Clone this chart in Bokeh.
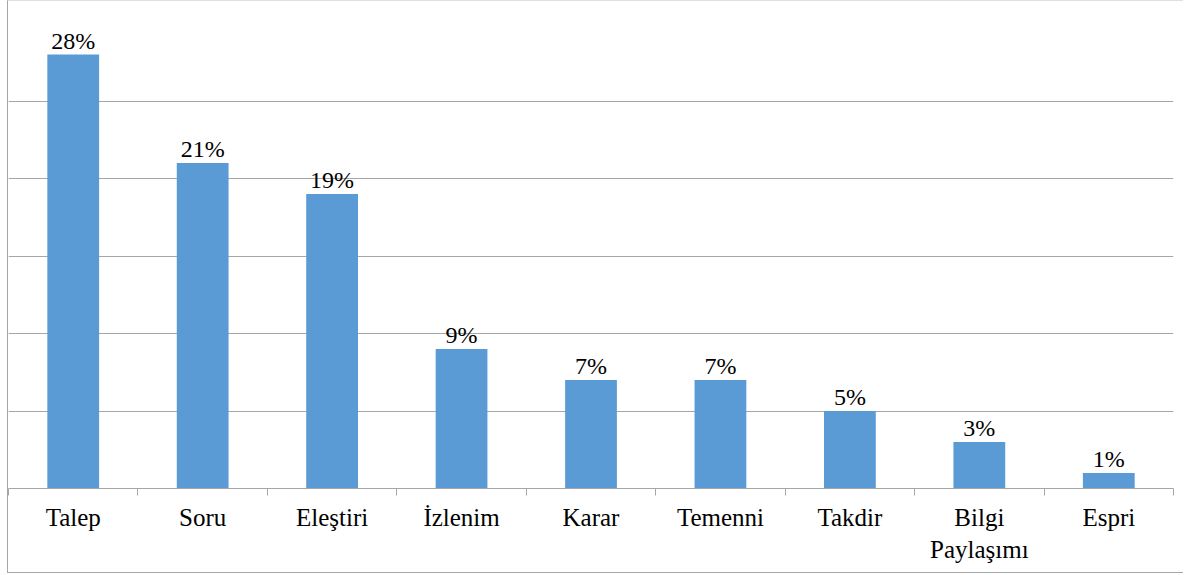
import numpy as np
from bokeh.plotting import figure
from bokeh.models import ColumnDataSource, LabelSet, FixedTicker, Range1d
from bokeh.embed import file_html
from bokeh.resources import INLINE

categories = ["Talep", "Soru", "Eleştiri", "İzlenim", "Karar", "Temenni", "Takdir", "Bilgi\nPaylaşımı", "Espri"]
values = [28, 21, 19, 9, 7, 7, 5, 3, 1]
y_ticks = [0, 5, 10, 15, 20, 25, 30]

n = len(categories)
centers = [i + 0.5 for i in range(n)]
src = ColumnDataSource(dict(x=centers, top=values, lab=[f"{v}%" for v in values]))

p = figure(width=1176, height=573, output_backend="svg", toolbar_location=None,
           x_range=Range1d(0, n), y_range=Range1d(0, 30),
           min_border_left=0, min_border_right=11, min_border_top=22, min_border_bottom=86,
           styles={"margin-left": "7px",
                   "border-left": "1px solid #a6a6a6", "border-bottom": "1px solid #a6a6a6",
                   "border-top": "1px solid #e0e0e0"})
p.outline_line_color = None
p.background_fill_color = "white"
p.border_fill_color = "white"

p.vbar(x="x", top="top", width=0.4, source=src, color="#5b9bd5", line_color=None)

p.add_layout(LabelSet(x="x", y="top", text="lab", source=src, y_offset=6,
                      text_align="center", text_baseline="alphabetic",
                      text_font="Liberation Serif", text_font_size="24px", text_color="black"))

p.yaxis.visible = False
p.ygrid.ticker = FixedTicker(ticks=y_ticks)
p.ygrid.grid_line_color = "#a6a6a6"
p.ygrid.grid_line_width = 1
p.xgrid.grid_line_color = None

xa = p.xaxis[0]
xa.ticker = FixedTicker(ticks=centers, minor_ticks=list(range(n + 1)))
xa.major_label_overrides = {c: lab for c, lab in zip(centers, categories)}
xa.major_tick_line_color = None
xa.minor_tick_line_color = "#a6a6a6"
xa.minor_tick_out = 7
xa.minor_tick_in = 0
xa.axis_line_color = "#a6a6a6"
xa.major_label_standoff = 8
xa.major_label_text_font = "Liberation Serif"
xa.major_label_text_font_size = "25px"
xa.major_label_text_color = "black"

open("out.html", "w").write(file_html(p, INLINE))
